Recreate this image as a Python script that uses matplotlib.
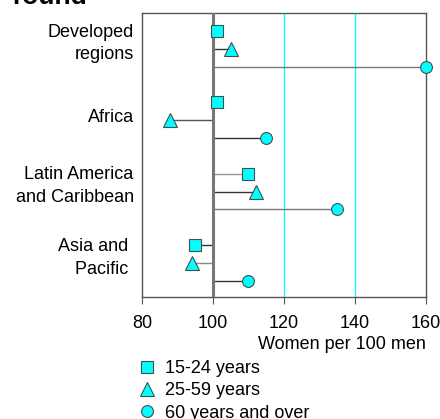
import matplotlib
matplotlib.use("Agg")
import matplotlib.pyplot as plt
from matplotlib.lines import Line2D

plt.rcParams['font.family'] = ['Liberation Sans', 'DejaVu Sans']

regions = ["Developed\nregions", "Africa", "Latin America\nand Caribbean", "Asia and \nPacific "]
age_groups = ["15-24 years", "25-59 years", "60 years and over"]
markers = ["s", "^", "o"]
marker_sizes = [8.5, 10, 8.5]

# women per 100 men, one list per region: 15-24, 25-59, 60+
values = [
    [101, 105, 160],
    [101, 88, 115],
    [110, 112, 135],
    [95, 94, 110],
]
stem_colors = [
    ["#333333", "#333333", "#777777"],
    ["#333333", "#555555", "#333333"],
    ["#999999", "#333333", "#777777"],
    ["#333333", "#888888", "#333333"],
]
label_offsets = [0.43, 0.72, 0.42, 0.42]

fig = plt.figure(figsize=(4.4, 4.19), dpi=100)
ax = fig.add_axes([0.3227, 0.2912, 0.6455, 0.6778])

cyan = "#00FFFF"
edge = "#3d4f4f"
fs = 13

for g, row in enumerate(values):
    base = g * 4
    for k, v in enumerate(row):
        y = base + k
        ax.plot([100, v], [y, y], color=stem_colors[g][k], lw=1, zorder=2)
        ax.plot(v, y, marker=markers[k], ms=marker_sizes[k], mfc=cyan,
                mec=edge, mew=0.8, ls="none", zorder=4, clip_on=False)

ax.axvline(100, color="#777777", lw=2.2, zorder=3)
for gx in (120, 140):
    ax.axvline(gx, color=cyan, lw=0.9, zorder=1)

ax.set_xlim(80, 160)
ax.set_ylim(14.9, -1)
ax.set_xticks([80, 100, 120, 140, 160])
ax.tick_params(axis="x", labelsize=fs, length=5, color="#555555", pad=8)
ax.set_yticks([g * 4 + label_offsets[g] for g in range(len(regions))])
ax.set_yticklabels(regions, fontsize=fs, ha="right", multialignment="right",
                   linespacing=1.45)
ax.tick_params(axis="y", length=0, pad=6)
for s in ax.spines.values():
    s.set_color("#555555")
    s.set_linewidth(1)

ax.set_xlabel("Women per 100 men", fontsize=fs, loc="right", labelpad=3)

handles = [Line2D([], [], marker=m, ms=ms, mfc=cyan, mec=edge, mew=0.8, ls="none")
           for m, ms in zip(markers, marker_sizes)]
fig.legend(handles, age_groups, loc="upper left", bbox_to_anchor=(0.3136, 0.141),
           frameon=False, fontsize=fs, borderpad=0, borderaxespad=0,
           handlelength=1, handletextpad=0.5, labelspacing=0.3)

fig.text(0.027, 0.99, "round", fontsize=19, fontweight="bold", va="baseline")

fig.savefig("out.png", dpi=100)
